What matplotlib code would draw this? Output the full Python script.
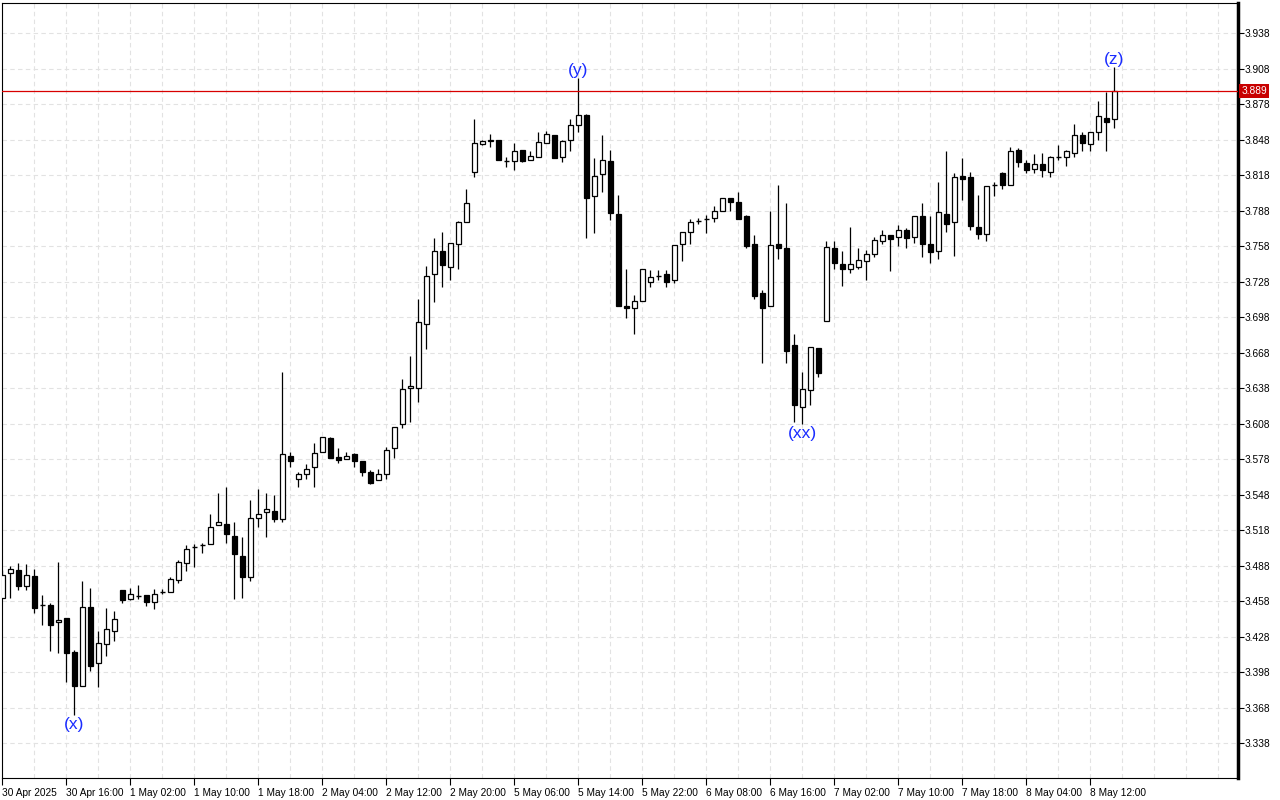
import matplotlib.pyplot as plt
import numpy as np
from matplotlib.transforms import blended_transform_factory

plt.rcParams['font.family'] = ['Liberation Sans', 'DejaVu Sans']

# H1 candles, 30 Apr 2025 .. 8 May 2025
opens = [
    3.461, 3.482, 3.484, 3.471, 3.479, 3.455, 3.455, 3.440, 3.444, 3.415,
    3.386, 3.453, 3.406, 3.422, 3.433, 3.467, 3.460, 3.462, 3.463, 3.457,
    3.466, 3.466, 3.476, 3.490, 3.504, 3.505, 3.506, 3.522, 3.523, 3.513,
    3.496, 3.478, 3.528, 3.533, 3.534, 3.527, 3.581, 3.561, 3.565, 3.571,
    3.584, 3.596, 3.580, 3.578, 3.582, 3.576, 3.567, 3.560, 3.565, 3.587,
    3.608, 3.638, 3.638, 3.692, 3.734, 3.754, 3.740, 3.760, 3.778, 3.821,
    3.844, 3.847, 3.848, 3.830, 3.830, 3.839, 3.831, 3.833, 3.845, 3.852,
    3.833, 3.848, 3.860, 3.869, 3.800, 3.819, 3.830, 3.785, 3.707, 3.706,
    3.712, 3.728, 3.733, 3.734, 3.729, 3.760, 3.770, 3.779, 3.781, 3.782,
    3.788, 3.799, 3.795, 3.783, 3.760, 3.718, 3.707, 3.760, 3.756, 3.674,
    3.622, 3.636, 3.672, 3.695, 3.756, 3.743, 3.739, 3.740, 3.745, 3.751,
    3.762, 3.767, 3.766, 3.772, 3.766, 3.783, 3.760, 3.754, 3.785, 3.778,
    3.817, 3.816, 3.774, 3.768, 3.810, 3.820, 3.810, 3.839, 3.828, 3.823,
    3.827, 3.821, 3.833, 3.833, 3.837, 3.852, 3.844, 3.854, 3.866, 3.865,
]
highs = [
    3.484, 3.488, 3.490, 3.489, 3.485, 3.463, 3.456, 3.491, 3.444, 3.417,
    3.475, 3.469, 3.433, 3.452, 3.450, 3.467, 3.469, 3.472, 3.463, 3.468,
    3.468, 3.478, 3.493, 3.505, 3.506, 3.507, 3.532, 3.549, 3.554, 3.525,
    3.512, 3.543, 3.553, 3.549, 3.548, 3.652, 3.584, 3.567, 3.574, 3.592,
    3.597, 3.597, 3.587, 3.584, 3.583, 3.576, 3.569, 3.570, 3.588, 3.605,
    3.646, 3.665, 3.713, 3.741, 3.765, 3.770, 3.761, 3.779, 3.806, 3.865,
    3.848, 3.853, 3.848, 3.833, 3.845, 3.839, 3.838, 3.854, 3.855, 3.852,
    3.848, 3.865, 3.900, 3.870, 3.832, 3.852, 3.839, 3.801, 3.739, 3.717,
    3.739, 3.738, 3.738, 3.738, 3.759, 3.770, 3.781, 3.782, 3.784, 3.792,
    3.799, 3.799, 3.804, 3.784, 3.767, 3.721, 3.788, 3.810, 3.794, 3.684,
    3.652, 3.673, 3.672, 3.762, 3.762, 3.754, 3.774, 3.756, 3.755, 3.766,
    3.772, 3.767, 3.776, 3.773, 3.783, 3.794, 3.783, 3.812, 3.838, 3.820,
    3.832, 3.821, 3.801, 3.809, 3.812, 3.821, 3.842, 3.841, 3.831, 3.836,
    3.837, 3.834, 3.843, 3.839, 3.861, 3.854, 3.854, 3.881, 3.888, 3.909,
]
lows = [
    3.461, 3.461, 3.467, 3.467, 3.448, 3.438, 3.416, 3.414, 3.390, 3.362,
    3.386, 3.399, 3.385, 3.412, 3.424, 3.456, 3.459, 3.460, 3.454, 3.451,
    3.464, 3.466, 3.473, 3.483, 3.487, 3.499, 3.506, 3.522, 3.507, 3.460,
    3.461, 3.475, 3.521, 3.512, 3.525, 3.525, 3.571, 3.554, 3.561, 3.554,
    3.584, 3.579, 3.575, 3.578, 3.571, 3.564, 3.557, 3.560, 3.561, 3.579,
    3.604, 3.609, 3.626, 3.671, 3.711, 3.723, 3.729, 3.739, 3.778, 3.816,
    3.843, 3.842, 3.831, 3.825, 3.822, 3.829, 3.831, 3.833, 3.845, 3.832,
    3.829, 3.838, 3.854, 3.765, 3.769, 3.804, 3.780, 3.707, 3.697, 3.684,
    3.712, 3.723, 3.729, 3.723, 3.727, 3.745, 3.760, 3.777, 3.769, 3.778,
    3.788, 3.788, 3.781, 3.756, 3.713, 3.659, 3.707, 3.747, 3.659, 3.609,
    3.608, 3.624, 3.647, 3.695, 3.739, 3.724, 3.735, 3.739, 3.729, 3.749,
    3.760, 3.737, 3.758, 3.756, 3.761, 3.749, 3.744, 3.747, 3.770, 3.750,
    3.797, 3.772, 3.764, 3.762, 3.800, 3.806, 3.810, 3.825, 3.820, 3.820,
    3.816, 3.816, 3.831, 3.826, 3.833, 3.838, 3.838, 3.848, 3.838, 3.858,
]
closes = [
    3.480, 3.485, 3.471, 3.480, 3.452, 3.455, 3.438, 3.442, 3.414, 3.386,
    3.453, 3.403, 3.423, 3.434, 3.443, 3.459, 3.464, 3.462, 3.457, 3.464,
    3.466, 3.477, 3.491, 3.502, 3.504, 3.505, 3.521, 3.525, 3.515, 3.498,
    3.478, 3.528, 3.532, 3.536, 3.527, 3.582, 3.576, 3.565, 3.570, 3.583,
    3.597, 3.579, 3.577, 3.581, 3.576, 3.567, 3.558, 3.565, 3.586, 3.605,
    3.637, 3.640, 3.694, 3.733, 3.754, 3.742, 3.761, 3.778, 3.794, 3.845,
    3.847, 3.848, 3.831, 3.830, 3.838, 3.830, 3.834, 3.846, 3.853, 3.832,
    3.847, 3.860, 3.869, 3.799, 3.817, 3.831, 3.786, 3.707, 3.706, 3.712,
    3.739, 3.732, 3.733, 3.728, 3.759, 3.770, 3.778, 3.779, 3.781, 3.788,
    3.799, 3.795, 3.781, 3.758, 3.716, 3.706, 3.759, 3.756, 3.669, 3.624,
    3.637, 3.673, 3.651, 3.757, 3.744, 3.739, 3.743, 3.746, 3.751, 3.763,
    3.767, 3.764, 3.772, 3.765, 3.783, 3.760, 3.753, 3.787, 3.777, 3.816,
    3.815, 3.775, 3.768, 3.809, 3.810, 3.810, 3.838, 3.829, 3.822, 3.827,
    3.822, 3.833, 3.833, 3.838, 3.852, 3.845, 3.854, 3.868, 3.863, 3.889,
]

time_labels = ['30 Apr 2025', '30 Apr 16:00', '1 May 02:00', '1 May 10:00',
               '1 May 18:00', '2 May 04:00', '2 May 12:00', '2 May 20:00',
               '5 May 06:00', '5 May 14:00', '5 May 22:00', '6 May 08:00',
               '6 May 16:00', '7 May 02:00', '7 May 10:00', '7 May 18:00',
               '8 May 04:00', '8 May 12:00']
bars_per_label = 8
price_ticks = np.round(np.arange(3.338, 3.939, 0.030), 3)
last_price = 3.889

wave_labels = ['(x)', '(y)', '(xx)', '(z)']
wave_bars = [9, 72, 100, 139]
wave_at_low = [True, False, True, False]

# --- figure ---
fig = plt.figure(figsize=(12.8, 8), dpi=100)
ax = fig.add_axes([2 / 1280, 22 / 800, 1236 / 1280, 775 / 800])

n = len(opens)
idx = np.arange(n)
o = np.array(opens)
h = np.array(highs)
l = np.array(lows)
c = np.array(closes)

ax.set_xlim(-0.06, 154.44)
ax.set_ylim(3.3085, 3.9634)

# grid
grid_kw = dict(color='#e2e2e2', linestyle=(0, (4, 3)), linewidth=0.8, zorder=0)
for gx in range(0, 156, 4):
    ax.axvline(gx, **grid_kw)
for gy in price_ticks:
    ax.axhline(gy, **grid_kw)

# wicks
ax.vlines(idx, l, h, color='black', linewidth=0.9, zorder=2)

# bodies
body_w = 0.62
up = c > o
down = c < o
flat = np.abs(c - o) < 0.0008
sel_up = up & ~flat
sel_dn = down & ~flat
ax.bar(idx[sel_up], (c - o)[sel_up], bottom=o[sel_up], width=body_w,
       facecolor='white', edgecolor='black', linewidth=0.9, zorder=3)
ax.bar(idx[sel_dn], (o - c)[sel_dn], bottom=c[sel_dn], width=body_w,
       facecolor='black', edgecolor='black', linewidth=0.9, zorder=3)
ax.hlines(o[flat], idx[flat] - body_w / 2, idx[flat] + body_w / 2,
          color='black', linewidth=1.0, zorder=3)

# last price line
ax.axhline(last_price, color='#d80000', linewidth=0.9, zorder=4)
trans = blended_transform_factory(ax.transAxes, ax.transData)
ax.text(1.0025, last_price, f'{last_price:.3f}', transform=trans,
        ha='left', va='center', fontsize=7.3, color='white', zorder=6,
        bbox=dict(boxstyle='square,pad=0.2', facecolor='#c80000',
                  edgecolor='none'), clip_on=False)

# wave labels
for lab, b, at_low in zip(wave_labels, wave_bars, wave_at_low):
    if at_low:
        ax.annotate(lab, (b, lows[b]), xytext=(0, -1.5), textcoords='offset points',
                    ha='center', va='top', fontsize=12.5, color='#1a2cff', zorder=5)
    else:
        ax.annotate(lab, (b, highs[b]), xytext=(0, 0), textcoords='offset points',
                    ha='center', va='bottom', fontsize=12.5, color='#1a2cff', zorder=5)

# axes styling
ax.yaxis.tick_right()
ax.set_yticks(price_ticks)
ax.set_yticklabels([f'{t:.3f}' for t in price_ticks])
ax.tick_params(axis='y', direction='out', length=4, width=0.8, pad=1,
               labelsize=7.3, colors='black')

ax.set_xticks([i * bars_per_label for i in range(len(time_labels))])
ax.set_xticklabels(time_labels)
for t in ax.get_xticklabels():
    t.set_horizontalalignment('left')
ax.tick_params(axis='x', direction='out', length=5, width=0.8, pad=2,
               labelsize=7.3, colors='black')

for side in ['top', 'left', 'bottom']:
    ax.spines[side].set_linewidth(0.8)
ax.spines['right'].set_linewidth(2.5)

fig.savefig('out.png', dpi=100, facecolor='white')
